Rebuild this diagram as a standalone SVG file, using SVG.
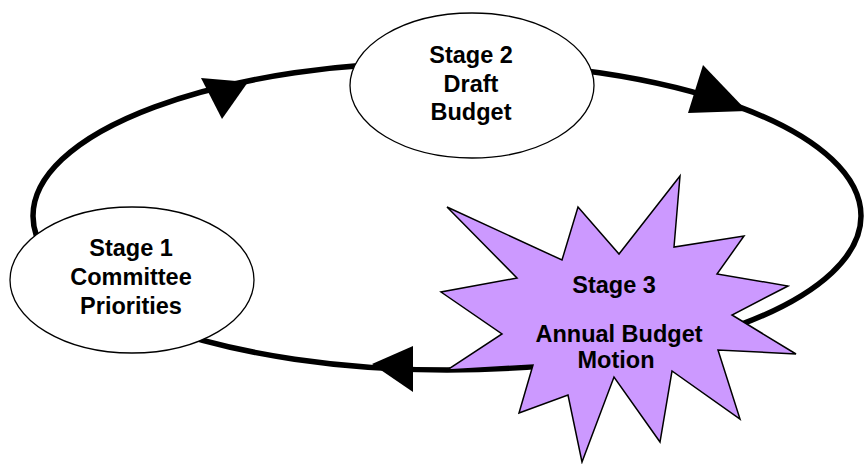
<svg xmlns="http://www.w3.org/2000/svg" width="864" height="464" viewBox="0 0 864 464">
<style>
.node{fill:#fff;stroke:#000;stroke-width:1.3}
.star{fill:#CC99FF;stroke:#000;stroke-width:1.5;stroke-linejoin:miter}
.loop{fill:none;stroke:#000;stroke-width:5.5}
.head{fill:#000;stroke:none}
text{font-family:"Liberation Sans",Arial,sans-serif;font-weight:bold;font-size:23.5px;fill:#000;text-anchor:middle}
</style>
<rect width="864" height="464" fill="#fff"/>
<g id="connectors">
<ellipse class="loop" cx="447" cy="216" rx="414" ry="154"/>
<polygon class="head" points="201,78 248,82 222,119"/>
<polygon class="head" points="703,65 688,113 747,111"/>
<polygon class="head" points="413,346 372,364 413,392"/>
</g>
<g id="stage1">
<ellipse class="node" cx="132" cy="280" rx="122" ry="73"/>
<text x="131" y="256">Stage 1</text>
<text x="131" y="285">Committee</text>
<text x="131" y="314">Priorities</text>
</g>
<g id="stage2">
<ellipse class="node" cx="472" cy="85.5" rx="122" ry="72.5"/>
<text x="471" y="63">Stage 2</text>
<text x="471" y="92">Draft</text>
<text x="471" y="120">Budget</text>
</g>
<g id="stage3">
<polygon class="star" points="447,207 562,260 578,207 619,254 680,176 674,247 744,236 717,274 788,286 732,315 796,354 718,350 740,419 672,371 660,442 614,377 582,462 568,395 519,413 533,365 447,370 502,334 441,292 517,278"/>
<text x="614" y="293">Stage 3</text>
<text x="619" y="342">Annual Budget</text>
<text x="616" y="368">Motion</text>
</g>
</svg>
